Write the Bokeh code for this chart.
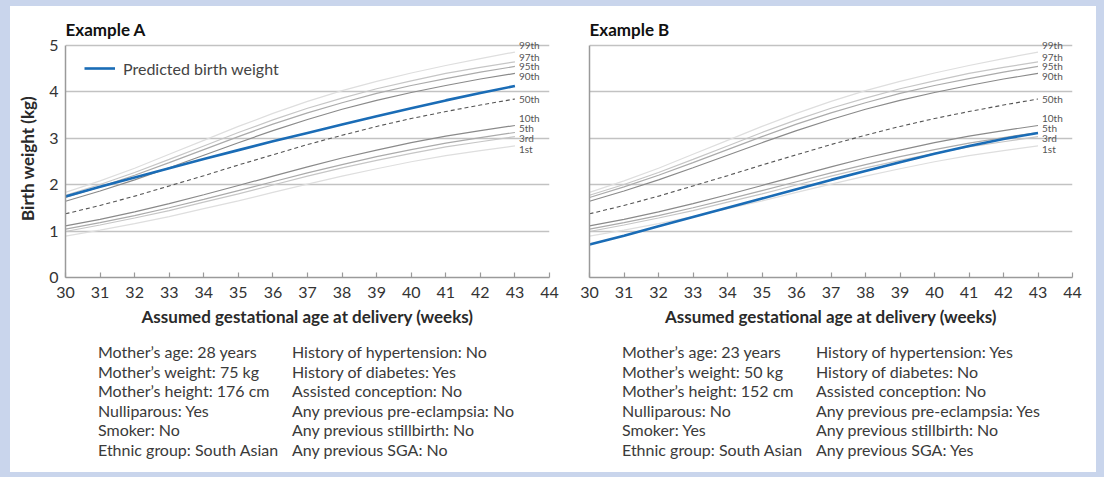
from bokeh.plotting import figure
from bokeh.layouts import row, column
from bokeh.models import (Range1d, FixedTicker, LabelSet, ColumnDataSource,
                          Legend, LegendItem)
from bokeh.core.properties import value
from bokeh.embed import file_html
from bokeh.resources import INLINE

# ---------------- data ----------------
weeks = [30, 31, 32, 33, 34, 35, 36, 37, 38, 39, 40, 41, 42, 43]

c99 = [1.83, 2.08, 2.35, 2.65, 2.95, 3.25, 3.53, 3.79, 4.02, 4.22, 4.40, 4.56, 4.71, 4.85]
c97 = [1.77, 2.00, 2.26, 2.54, 2.83, 3.12, 3.39, 3.64, 3.86, 4.06, 4.23, 4.39, 4.52, 4.64]
c95 = [1.72, 1.95, 2.20, 2.47, 2.75, 3.03, 3.30, 3.54, 3.76, 3.96, 4.13, 4.28, 4.42, 4.54]
c90 = [1.64, 1.86, 2.10, 2.36, 2.63, 2.90, 3.16, 3.40, 3.62, 3.81, 3.98, 4.13, 4.27, 4.39]
c50 = [1.37, 1.55, 1.75, 1.97, 2.19, 2.42, 2.64, 2.86, 3.06, 3.25, 3.42, 3.57, 3.71, 3.84]
c10 = [1.11, 1.25, 1.41, 1.59, 1.78, 1.98, 2.18, 2.38, 2.57, 2.74, 2.90, 3.04, 3.16, 3.27]
c5 = [1.04, 1.18, 1.33, 1.50, 1.68, 1.87, 2.06, 2.25, 2.43, 2.60, 2.75, 2.89, 3.01, 3.12]
c3 = [0.99, 1.13, 1.28, 1.44, 1.62, 1.80, 1.99, 2.18, 2.36, 2.52, 2.67, 2.81, 2.92, 3.03]
c1 = [0.89, 1.02, 1.16, 1.31, 1.48, 1.65, 1.83, 2.01, 2.18, 2.34, 2.49, 2.62, 2.73, 2.83]

pred_a = [1.74, 1.95, 2.15, 2.35, 2.55, 2.74, 2.93, 3.11, 3.29, 3.47, 3.64, 3.81, 3.97, 4.12]
pred_b = [0.71, 0.90, 1.10, 1.30, 1.50, 1.70, 1.90, 2.10, 2.29, 2.48, 2.66, 2.83, 2.98, 3.11]

centile_names = ["99th", "97th", "95th", "90th", "50th", "10th", "5th", "3rd", "1st"]
centile_values = [c99, c97, c95, c90, c50, c10, c5, c3, c1]

x_ticks = list(range(30, 45))
y_ticks = [0, 1, 2, 3, 4, 5]

titles = ["Example A", "Example B"]
x_title = "Assumed gestational age at delivery (weeks)"
y_title = "Birth weight (kg)"
legend_text = "Predicted birth weight"

info_a_left = ["Mother\u2019s age: 28 years", "Mother\u2019s weight: 75 kg",
               "Mother\u2019s height: 176 cm", "Nulliparous: Yes", "Smoker: No",
               "Ethnic group: South Asian"]
info_a_right = ["History of hypertension: No", "History of diabetes: Yes",
                "Assisted conception: No", "Any previous pre-eclampsia: No",
                "Any previous  stillbirth: No", "Any previous SGA: No"]
info_b_left = ["Mother\u2019s age: 23 years", "Mother\u2019s weight: 50 kg",
               "Mother\u2019s height: 152 cm", "Nulliparous: No", "Smoker: Yes",
               "Ethnic group: South Asian"]
info_b_right = ["History of hypertension: Yes", "History of diabetes: No",
                "Assisted conception: No", "Any previous pre-eclampsia: Yes",
                "Any previous  stillbirth: No", "Any previous SGA: Yes"]

# ---------------- styles ----------------
FONT = "Lato"
centile_colors = ["#dedede", "#c6c6c6", "#ababab", "#8a8a8a", "#555555",
                  "#8a8a8a", "#ababab", "#c6c6c6", "#dedede"]
label_offsets_px = [7, 5, 0, -3, 0, 7, 4, -1, -3]
BLUE = "#1a6cb6"
PAGE_BG = "#c9d5ec"

Y_TOP = 5.12        # a little head-room so the 99th label is not clipped
FRAME_H = 238
TOP = 33
BOTTOM = 62
TOTAL_H = 466
MAIN_H = TOP + FRAME_H + BOTTOM
INFO_H = TOTAL_H - MAIN_H
ROW0 = 12
ROW_STEP = 19.6
COL_X = [32.5, 226.5]


def make_panel(idx, pred, info_left, info_right, width, border_left, border_right, show_y):
    frame_w = width - border_left - border_right
    ppx = frame_w / (x_ticks[-1] - x_ticks[0])

    p = figure(width=width, height=MAIN_H, output_backend="svg", toolbar_location=None,
               x_range=Range1d(x_ticks[0], x_ticks[-1]), y_range=Range1d(0, Y_TOP),
               min_border_left=border_left, min_border_right=border_right,
               min_border_top=TOP, min_border_bottom=BOTTOM)
    p.outline_line_color = None
    p.background_fill_color = "white"
    p.border_fill_color = "white"

    p.title.text = titles[idx]
    p.title.align = "left"
    p.title.text_font = FONT
    p.title.text_font_size = "17px"
    p.title.text_font_style = "bold"
    p.title.text_color = "#111111"
    p.title.standoff = 0
    p.title.offset = 0

    p.xgrid.grid_line_color = None
    p.ygrid.grid_line_color = "#c2c2c2"
    p.ygrid.grid_line_width = 1.5
    p.ygrid.ticker = FixedTicker(ticks=y_ticks)

    xa = p.xaxis[0]
    xa.ticker = FixedTicker(ticks=x_ticks)
    xa.axis_line_color = "#9a9a9a"
    xa.axis_line_width = 1.5
    xa.major_tick_line_color = "#9a9a9a"
    xa.major_tick_line_width = 1.2
    xa.major_tick_in = 5
    xa.major_tick_out = 0
    xa.minor_tick_line_color = None
    xa.major_label_text_font = FONT
    xa.major_label_text_font_size = "16px"
    xa.major_label_text_color = "#333333"
    xa.major_label_standoff = 9
    xa.axis_label = x_title
    xa.axis_label_text_font = FONT
    xa.axis_label_text_font_size = "17px"
    xa.axis_label_text_font_style = "bold"
    xa.axis_label_text_color = "#2a2a2a"
    xa.axis_label_standoff = 5

    ya = p.yaxis[0]
    ya.bounds = (y_ticks[0], y_ticks[-1])
    ya.axis_line_color = "#9a9a9a"
    ya.axis_line_width = 1.5
    ya.major_tick_line_color = None
    ya.minor_tick_line_color = None
    if show_y:
        ya.ticker = FixedTicker(ticks=y_ticks)
        ya.major_label_text_font = FONT
        ya.major_label_text_font_size = "16px"
        ya.major_label_text_color = "#333333"
        ya.major_label_standoff = 1
        ya.axis_label = y_title
        ya.axis_label_text_font = FONT
        ya.axis_label_text_font_size = "17px"
        ya.axis_label_text_font_style = "bold"
        ya.axis_label_text_color = "#2a2a2a"
        ya.axis_label_standoff = 8
    else:
        ya.ticker = FixedTicker(ticks=[])
        ya.major_label_standoff = 0

    # centile curves
    for name, vals, col in zip(centile_names, centile_values, centile_colors):
        if name == "50th":
            p.line(weeks, vals, line_color=col, line_width=1.1, line_dash="4 3")
        else:
            p.line(weeks, vals, line_color=col, line_width=1.2)

    # centile labels
    ends = [v[-1] for v in centile_values]
    src = ColumnDataSource(dict(x=[weeks[-1]] * len(ends), y=ends, t=centile_names,
                                off=label_offsets_px))
    p.add_layout(LabelSet(x="x", y="y", text="t", source=src, x_offset=4, y_offset="off",
                          text_font=value(FONT), text_font_size=value("10px"),
                          text_color="#555555",
                          text_baseline="middle", text_align="left"))

    # predicted line
    r = p.line(weeks, pred, line_color=BLUE, line_width=2.6)
    if idx == 0:
        leg = Legend(items=[LegendItem(label=legend_text, renderers=[r])],
                     location=(19, 199), border_line_color=None,
                     background_fill_alpha=0, glyph_width=31, glyph_height=20,
                     label_standoff=8, padding=0, margin=0, spacing=0,
                     label_text_font=FONT, label_text_font_size="16px",
                     label_text_color="#444444")
        p.add_layout(leg)

    # info block below the chart (same x frame as the chart)
    q = figure(width=width, height=INFO_H, output_backend="svg", toolbar_location=None,
               x_range=Range1d(x_ticks[0], x_ticks[-1]), y_range=Range1d(0, INFO_H),
               min_border_left=border_left, min_border_right=border_right,
               min_border_top=0, min_border_bottom=0)
    q.axis.visible = False
    q.grid.visible = False
    q.outline_line_color = None
    q.background_fill_color = "white"
    q.border_fill_color = "white"
    n = len(info_left)
    ys = [INFO_H - (ROW0 + i * ROW_STEP) for i in range(n)]
    for col_x, texts in zip(COL_X, [info_left, info_right]):
        q.text(x=[x_ticks[0] + col_x / ppx] * n, y=ys, text=texts,
               text_font=value(FONT), text_font_size=value("16px"),
               text_color="#3a3a3a", text_baseline="middle", text_align="left")
    return column(p, q, spacing=0, styles={"background-color": "white"})


pa = make_panel(0, pred_a, info_a_left, info_a_right, 559, 55, 20, True)
pb = make_panel(1, pred_b, info_b_left, info_b_right, 527, 20, 24, False)

layout = row(pa, pb, spacing=0, margin=(6, 0, 0, 10),
             styles={"background-color": "white"})
html = file_html(layout, INLINE)
html = html.replace("</head>",
                    "<style>html, body { background-color: " + PAGE_BG +
                    " !important; }</style></head>", 1)
open("out.html", "w").write(html)
